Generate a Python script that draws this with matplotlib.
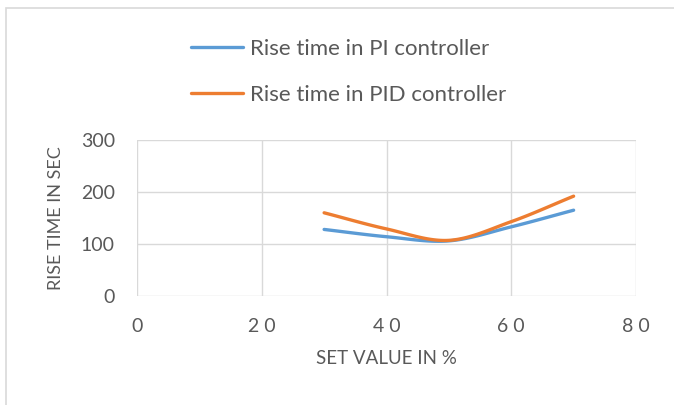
import numpy as np
import matplotlib
matplotlib.use('Agg')
import matplotlib.pyplot as plt
from matplotlib.patches import Rectangle

# data
set_value = [30, 40, 50, 60, 70]
rise_pi = [128, 114, 106, 133, 165]
rise_pid = [160, 129, 107, 143, 192]


def smooth(x, y, n=30):
	# catmull-rom style smoothing like the spreadsheet "smoothed line"
	x = np.asarray(x, float)
	y = np.asarray(y, float)
	px = np.concatenate([[2*x[0]-x[1]], x, [2*x[-1]-x[-2]]])
	py = np.concatenate([[2*y[0]-y[1]], y, [2*y[-1]-y[-2]]])
	xs, ys = [], []
	t = np.linspace(0, 1, n)
	for i in range(1, len(px)-2):
		for p, out in ((px, xs), (py, ys)):
			p0, p1, p2, p3 = p[i-1], p[i], p[i+1], p[i+2]
			out.extend(0.5*((2*p1) + (-p0+p2)*t + (2*p0-5*p1+4*p2-p3)*t**2 + (-p0+3*p1-3*p2+p3)*t**3))
	return xs, ys


plt.rcParams['font.family'] = ['Lato', 'DejaVu Sans']
grey = '#595959'

fig = plt.figure(figsize=(6.74, 4.05), dpi=100)
fig.patches.append(Rectangle((6/674, -0.1), 1.2, 1 - 8/405 + 0.1, transform=fig.transFigure,
	fill=False, edgecolor='#d9d9d9', linewidth=1.2))

ax = fig.add_axes([137/674, 1-296/405, (636-137)/674, (296-140)/405])

x1, y1 = smooth(set_value, rise_pi)
x2, y2 = smooth(set_value, rise_pid)
l1, = ax.plot(x1, y1, color='#5b9bd5', lw=2.4, solid_capstyle='round')
l2, = ax.plot(x2, y2, color='#ed7d31', lw=2.4, solid_capstyle='round')

ax.set_xlim(0, 80)
ax.set_ylim(0, 300)
ax.set_xticks([0, 20, 40, 60, 80])
ax.set_xticklabels(['0', '2 0', '4 0', '6 0', '8 0'])
ax.set_yticks([0, 100, 200, 300])
ax.grid(color='#d9d9d9', lw=1)
ax.set_axisbelow(True)
for s in ax.spines.values():
	s.set_visible(False)
ax.tick_params(length=0, labelsize=14, labelcolor=grey)
ax.tick_params(axis='x', pad=16)
ax.tick_params(axis='y', pad=16)

ax.set_xlabel('SET VALUE IN %', fontsize=13.5, color=grey, labelpad=11)
ax.set_ylabel('RISE TIME IN SEC', fontsize=13, color=grey, labelpad=12)

fig.legend((l1, l2), ('Rise time in PI controller', 'Rise time in PID controller'),
	loc='upper left', bbox_to_anchor=(171/674, 1-19/405), frameon=False,
	fontsize=16, labelcolor=grey, handlelength=2.35, handletextpad=0.3, labelspacing=1.18)

fig.savefig('out.png', dpi=100)
